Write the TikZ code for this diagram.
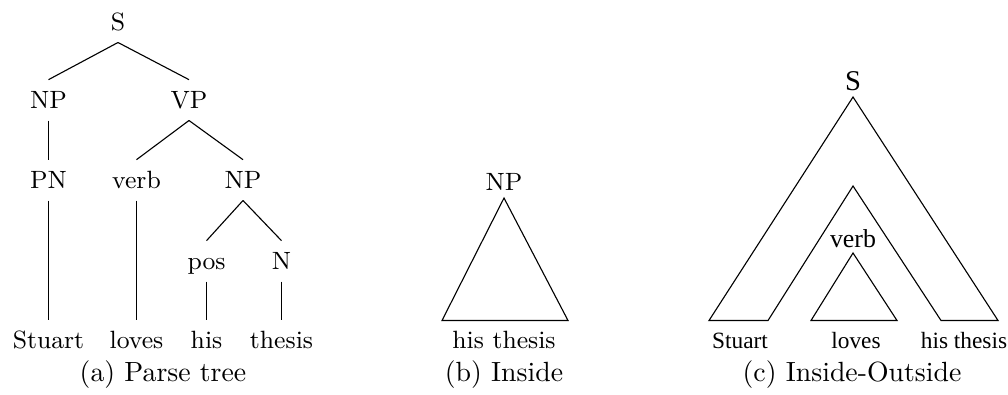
\documentclass[tikz,border=0pt]{standalone}
\usepackage{fontspec}
\newfontfamily\timesfont{Liberation Serif}

\tikzset{
  cat/.style={font=\fontsize{9}{11}\selectfont, anchor=base, inner sep=3pt,
    text height=7pt, text depth=1.3pt},
  subcap/.style={font=\fontsize{10}{12}\selectfont, anchor=base},
  iolabel/.style={font=\timesfont\fontsize{8.4}{10}\selectfont, anchor=base}
}

\begin{document}
\begin{tikzpicture}[x=0.36pt, y=-0.36pt]
  \useasboundingbox (0,0) rectangle (1008,394);

  % (a) parse tree
  \node[cat] (s) at (118,30) {S};
  \node[cat] (np) at (48.5,108) {NP};
  \node[cat] (vp) at (189,108) {VP};
  \node[cat] (pn) at (48.5,188) {PN};
  \node[cat] (verb) at (136.5,188) {verb};
  \node[cat] (npr) at (243,188) {NP};
  \node[cat] (pos) at (206.5,269) {pos};
  \node[cat] (n) at (281.5,269) {N};
  \node[cat] (stuart) at (48.5,348) {Stuart};
  \node[cat] (loves) at (136.5,348) {loves};
  \node[cat] (his) at (206.5,348) {his};
  \node[cat] (thesis) at (281.5,348) {thesis};
  \draw (s.south) -- (np.north);
  \draw (s.south) -- (vp.north);
  \draw (np.south) -- (pn.north);
  \draw (vp.south) -- (verb.north);
  \draw (vp.south) -- (npr.north);
  \draw (pn.south) -- (stuart.north);
  \draw (verb.south) -- (loves.north);
  \draw (npr.south) -- (pos.north);
  \draw (npr.south) -- (n.north);
  \draw (pos.south) -- (his.north);
  \draw (n.south) -- (thesis.north);
  \node[subcap] (capa) at (163,381) {(a) Parse tree};

  % (b) inside
  \node[cat] (npb) at (504,190) {NP};
  \coordinate (btop) at (504,198);
  \coordinate (bleft) at (442,320.5);
  \coordinate (bright) at (568,320.5);
  \draw (btop) -- (bleft) -- (bright) -- cycle;
  \node[cat] (spanb) at (504,348) {his thesis};
  \node[subcap] (capb) at (504,381) {(b) Inside};

  % (c) inside-outside
  \node[font=\timesfont\fontsize{10.3}{12}\selectfont, anchor=base] (sc) at (853,90) {S};
  \coordinate (otop) at (853,97);
  \coordinate (itop) at (853,186);
  \draw (otop) -- (709,320.5) -- (768,320.5) -- (itop) -- (941,320.5) -- (998,320.5) -- cycle;
  \node[font=\timesfont\fontsize{9.3}{11}\selectfont, anchor=base] (verbc) at (853,247) {verb};
  \coordinate (vtop) at (853,253);
  \draw (vtop) -- (811,320.5) -- (897,320.5) -- cycle;
  \node[iolabel] (stuartc) at (740,348) {Stuart};
  \node[iolabel] (lovesc) at (856,348) {loves};
  \node[iolabel] (spanc) at (964,348) {his thesis};
  \node[subcap] (capc) at (852,381) {(c) Inside-Outside};
\end{tikzpicture}
\end{document}
